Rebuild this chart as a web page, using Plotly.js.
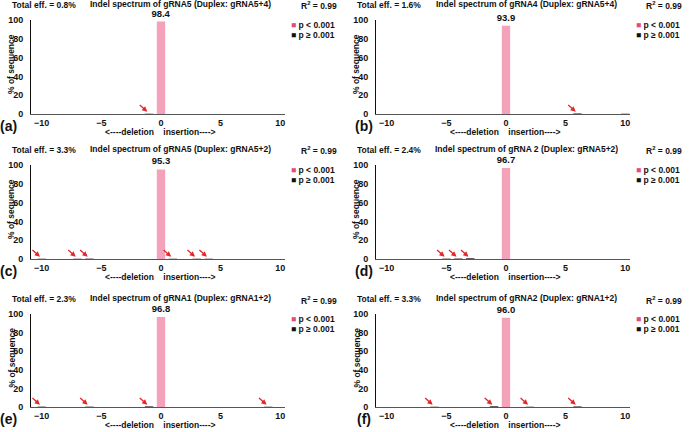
<!DOCTYPE html>
<html>
<head>
<meta charset="utf-8">
<script src="https://cdn.plot.ly/plotly-3.0.1.min.js"></script>
<style>html,body{margin:0;padding:0;background:#fff}#chart{width:689px;height:432px}</style>
</head>
<body>
<div id="chart"></div>
<script>
// ---- data ----
const panelLabels = ['(a)', '(b)', '(c)', '(d)', '(e)', '(f)'];
const panelTitles = [
  'Indel spectrum of gRNA5 (Duplex: gRNA5+4)',
  'Indel spectrum of gRNA4 (Duplex: gRNA5+4)',
  'Indel spectrum of gRNA5 (Duplex: gRNA5+2)',
  'Indel spectrum of gRNA 2 (Duplex: gRNA5+2)',
  'Indel spectrum of gRNA1 (Duplex: gRNA1+2)',
  'Indel spectrum of gRNA2 (Duplex: gRNA1+2)'
];
const totalEff = [0.8, 1.6, 3.3, 2.4, 2.3, 3.3];
const rSquared = [0.99, 0.99, 0.99, 0.99, 0.99, 0.99];
const mainPos = [0, 0, 0, 0, 0, 0];
const mainVal = [98.4, 93.9, 95.3, 96.7, 96.8, 96.0];
const minorPos = [[-1], [6, 10], [-10, -7, -6, 1, 3, 4], [-5, -4, -3], [-10, -6, -1, 9], [-6, -1, 2, 6]];
const minorVal = [[0.3], [0.6, 0.3], [0.3, 0.3, 0.4, 0.3, 0.3, 0.3], [0.4, 0.5, 0.8], [0.4, 0.4, 0.7, 0.3], [0.3, 0.8, 0.3, 0.6]];
const arrowPos = [[-1], [6], [-10, -7, -6, 1, 3, 4], [-5, -4, -3], [-10, -6, -1, 9], [-6, -1, 2, 6]];
const xTicks = [-10, -5, 0, 5, 10];
const yTicks = [0, 20, 40, 60, 80, 100];
const legendNames = ['p &lt; 0.001', 'p \u2265 0.001'];
const xAxisTitle = '&lt;----deletion\u00a0\u00a0\u00a0\u00a0insertion----&gt;';
const yAxisTitle = '% of sequence';

// ---- layout geometry (pixels) ----
const W = 689, H = 432;
const colLeft = [31, 376], colRight = [285, 630], colOff = [0, 345];
const rowTop = [20, 165, 314], rowBase = [114, 259, 407];
const labelX = [8, 364];
const FONT = 'Liberation Sans, Arial, sans-serif';
const NARROW = 'Liberation Sans Narrow, Arial Narrow, Liberation Sans, sans-serif';
const pink = '#f4a1ba', pinkLegend = '#e24c7d', dark = '#2a2a2a', red = '#e3262b';

const px = x => x / W;
const py = y => 1 - y / H;

const data = [];
const layout = {
  width: W, height: H,
  margin: {l: 0, r: 0, t: 0, b: 0},
  paper_bgcolor: '#fff', plot_bgcolor: '#fff',
  showlegend: false,
  font: {family: FONT, size: 9, color: '#111', weight: 'bold'},
  annotations: []
};

for (let i = 0; i < 6; i++) {
  const col = i % 2, row = Math.floor(i / 2);
  const n = i === 0 ? '' : String(i + 1);
  const xa = 'x' + n, ya = 'y' + n;
  data.push({
    type: 'bar', x: [mainPos[i]], y: [mainVal[i]], xaxis: xa, yaxis: ya,
    width: 0.7, marker: {color: pink}, name: 'p < 0.001',
    text: [mainVal[i].toFixed(1)], textposition: 'outside', cliponaxis: false, constraintext: 'none',
    textfont: {family: FONT, size: 9.5, color: '#111', weight: 'bold'},
    hoverinfo: 'x+y'
  });
  data.push({
    type: 'bar', x: minorPos[i], y: minorVal[i], xaxis: xa, yaxis: ya,
    width: 0.7, marker: {color: dark}, name: 'p \u2265 0.001', hoverinfo: 'x+y'
  });
  layout['xaxis' + n] = {
    domain: [px(colLeft[col]), px(colRight[col])], anchor: ya,
    range: [-10.9, 10.4], tickvals: xTicks, ticks: '', showgrid: false, zeroline: false,
    showline: true, linecolor: '#555', linewidth: 1,
    tickfont: {family: FONT, size: 9, color: '#111', weight: 'bold'},
    fixedrange: true
  };
  layout['yaxis' + n] = {
    domain: [py(rowBase[row]), py(rowTop[row])], anchor: xa,
    range: [0, 100], tickvals: yTicks, ticks: '', showgrid: false, zeroline: false,
    showline: true, linecolor: '#111', linewidth: 1, ticklabelstandoff: 5,
    tickfont: {family: NARROW, size: 9, color: '#111', weight: 'bold'},
    fixedrange: true
  };

  const cx = colOff[col];
  const ann = layout.annotations;
  const tfont = {family: FONT, size: 8.5, color: '#111', weight: 'bold'};
  const add = (x, y, text, xanchor, font, extra) => ann.push(Object.assign({
    xref: 'paper', yref: 'paper', x: px(x), y: py(y), xanchor: xanchor, yanchor: 'middle',
    text: text, showarrow: false, font: font || tfont}, extra || {}));
  add(cx + 10, rowTop[row] - 15, 'Total eff. = ' + totalEff[i].toFixed(1) + '%', 'left');
  add(cx + 181, rowTop[row] - 16, panelTitles[i], 'center');
  add(cx + 339, rowTop[row] - 14, 'R<sup>2</sup> = ' + rSquared[i].toFixed(2), 'right');
  add(cx + 289, rowTop[row] + 5, '<span style="color:' + pinkLegend + '">\u25A0</span> ' + legendNames[0], 'left');
  add(cx + 289, rowTop[row] + 15, '<span style="color:#111">\u25A0</span> ' + legendNames[1], 'left');
  add(cx + 160, rowBase[row] + 18, xAxisTitle, 'center');
  add(cx + 11, (rowTop[row] + rowBase[row]) / 2 - 3, yAxisTitle, 'center', tfont, {textangle: -90});
  add(labelX[col], rowBase[row] + 12, panelLabels[i], 'center', {family: FONT, size: 14, color: '#111', weight: 'bold'});
  arrowPos[i].forEach(p => {
    ann.push({xref: xa, yref: ya, x: p - 0.15, y: 2.5, text: '', showarrow: true,
      ax: -9, ay: -8, arrowcolor: red, arrowwidth: 1.3, arrowhead: 2, arrowsize: 0.8, standoff: 0});
  });
}

Plotly.newPlot('chart', data, layout, {displayModeBar: false, staticPlot: true});
</script>
</body>
</html>
